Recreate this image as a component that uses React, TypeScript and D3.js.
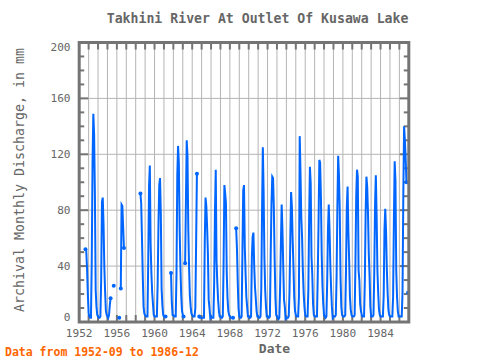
import React from "react";
import * as d3 from "d3";

const N = null;
const firstYear = 1952;
const lastYear = 1987;
const xLabelYears = [1952, 1956, 1960, 1964, 1968, 1972, 1976, 1980, 1984];
const yLabels = [0, 40, 80, 120, 160, 200];

// Monthly discharge in mm, January..December of each year
const values1950s: (number | null)[] = [
  N, N, N, N, N, N, N, N, 52, 51, 38, 20, // 1952
  6, 4, 3, 3, 44, 114, 149, 134, 92, 23, 11, 5, // 1953
  4, 3, 3, 4, 30, 86, 89, 70, 40, 22, 8, 5, // 1954
  4, 3, 5, 12, 17, N, N, N, 26, N, N, N, // 1955
  N, N, N, 3, N, 24, 84, 83, 68, 53, N, N, // 1956
  N, N, N, N, N, N, N, N, N, N, N, N, // 1957
  N, N, N, N, N, N, 92, 85, 60, 33, 11, 6, // 1958
  5, 4, 4, 4, 45, 97, 112, 56, 35, 21, 13, 5, // 1959
];
const values1960s: (number | null)[] = [
  4, 4, 4, 4, 28, 69, 98, 103, 78, 24, 12, 5, // 1960
  4, 4, 4, N, N, N, N, N, N, 35, 14, 5, // 1961
  5, 4, 4, 4, 35, 105, 126, 113, 66, 39, 19, 8, // 1962
  5, 4, N, 42, 86, 130, 119, 67, 39, 19, 11, 6, // 1963
  5, 4, 4, 4, 10, 57, 106, N, N, 4, 3, 3, // 1964
  3, 3, 3, 3, 57, 89, 83, 68, 49, 16, 10, 3, // 1965
  4, 3, 3, 3, 28, 79, 109, 44, 28, 16, 8, 4, // 1966
  4, 3, 3, 4, 42, 98, 92, 85, 35, 17, 8, 5, // 1967
  4, 3, 3, 3, 3, N, N, N, 67, 53, 29, 10, // 1968
  4, 3, 3, 4, 50, 94, 98, 54, 35, 18, 11, 4, // 1969
];
const values1970s: (number | null)[] = [
  4, 3, 3, 4, 46, 61, 64, 40, 25, 17, 8, 4, // 1970
  4, 3, 3, 4, 23, 79, 125, 93, 46, 23, 11, 4, // 1971
  4, 3, 3, 4, 47, 84, 104, 103, 83, 46, 18, 5, // 1972
  4, 3, 2, 3, 24, 55, 84, 66, 40, 16, 11, 2, // 1973
  3, 3, 3, 4, 22, 59, 93, 83, 59, 40, 18, 8, // 1974
  5, 4, 4, 4, 18, 133, 107, 75, 61, 37, 21, 11, // 1975
  5, 4, 4, 4, 23, 74, 111, 99, 47, 34, 13, 5, // 1976
  4, 4, 4, 4, 34, 71, 116, 114, 90, 49, 26, 13, // 1977
  5, 4, 3, 4, 28, 66, 84, 66, 41, 24, 11, 3, // 1978
  4, 4, 4, 5, 33, 83, 119, 105, 80, 32, 11, 5, // 1979
];
const values1980s: (number | null)[] = [
  4, 4, 4, 5, 38, 82, 97, 65, 44, 18, 9, 5, // 1980
  4, 4, 4, 5, 42, 90, 109, 104, 37, 30, 13, 8, // 1981
  5, 4, 4, 4, 30, 78, 104, 97, 78, 49, 33, 11, // 1982
  4, 4, 4, 5, 36, 84, 105, 76, 37, 21, 9, 5, // 1983
  4, 4, 4, 4, 19, 66, 81, 65, 38, 21, 9, 5, // 1984
  4, 4, 4, 4, 18, 72, 115, 101, 37, 18, 8, 4, // 1985
  4, 4, 4, 4, 21, 90, 140, 130, 117, 100, N, 21, // 1986
];

type Pt = { t: number; v: number | null };
const allValues = [...values1950s, ...values1960s, ...values1970s, ...values1980s];
const points: Pt[] = allValues.map((v, i) => ({ t: firstYear + i / 12, v }));

const W = 480;
const H = 360;
const left = 79.2;
const right = 408.8;
const top = 42.5;
const bottom = 322;

const FRAME = "#747474";
const GRID = "#b4b4b4";
const TEXT = "#666666";
const LINE = "#0066ff";
const FONT = "'DejaVu Sans Mono', monospace";

export default function App() {
  const x = d3.scaleLinear().domain([firstYear, lastYear]).range([left, right]);
  const y = d3.scaleLinear().domain([0, 200]).range([bottom, top]);
  const line = d3
    .line<Pt>()
    .defined((d) => d.v != null)
    .x((d) => x(d.t))
    .y((d) => y(d.v as number));

  const markers = points.filter((d, i) => {
    if (d.v == null) return false;
    const p = points[i - 1];
    const n = points[i + 1];
    return !p || p.v == null || !n || n.v == null;
  });

  const years = d3.range(firstYear + 1, lastYear);
  const minor = d3.range(10, 200, 10);
  const labelY = (v: number) =>
    Math.min(Math.max(y(v), y(200) + 4.2), y(0) - 5.3);

  return (
    <svg
      width={W}
      height={H}
      style={{ position: "fixed", left: 0, top: 0, background: "#fff" }}
    >
      <rect x={0} y={0} width={W} height={H} fill="#fff" />
      {years.map((yr) => (
        <line key={"g" + yr} x1={x(yr)} x2={x(yr)} y1={top} y2={bottom} stroke={GRID} strokeWidth={1} />
      ))}
      {[40, 80, 120, 160].map((v) => (
        <line key={"h" + v} x1={left} x2={right} y1={y(v)} y2={y(v)} stroke={GRID} strokeWidth={1} />
      ))}
      {years.map((yr) => (
        <g key={"t" + yr}>
          <line x1={x(yr)} x2={x(yr)} y1={top} y2={top + 7} stroke={FRAME} strokeWidth={2} />
          <line x1={x(yr)} x2={x(yr)} y1={bottom} y2={bottom - 7} stroke={FRAME} strokeWidth={2} />
        </g>
      ))}
      {minor.map((v) => {
        const len = v % 40 === 0 ? 9 : 5;
        return (
          <g key={"m" + v}>
            <line x1={left} x2={left + len} y1={y(v)} y2={y(v)} stroke={FRAME} strokeWidth={2} />
            <line x1={right} x2={right - len} y1={y(v)} y2={y(v)} stroke={FRAME} strokeWidth={2} />
          </g>
        );
      })}
      <path d={line(points) || ""} fill="none" stroke={LINE} strokeWidth={2} strokeLinejoin="miter" />
      {markers.map((d, i) => (
        <circle key={"c" + i} cx={x(d.t)} cy={y(d.v as number)} r={2} fill={LINE} />
      ))}
      <rect x={left} y={top} width={right - left} height={bottom - top} fill="none" stroke={FRAME} strokeWidth={3} />
      {yLabels.map((v) => (
        <text key={"yl" + v} x={70.5} y={labelY(v)} dy="0.36em" textAnchor="end" fontFamily={FONT} fontSize={11.1} fill={TEXT}>
          {v}
        </text>
      ))}
      {xLabelYears.map((yr) => (
        <text key={"xl" + yr} x={x(yr)} y={333} dy="0.36em" textAnchor="middle" fontFamily={FONT} fontSize={11.1} fill={TEXT}>
          {yr}
        </text>
      ))}
      <text x={257.6} y={18.3} dy="0.36em" textAnchor="middle" fontFamily={FONT} fontSize={13.2} fontWeight="bold" fill={TEXT}>
        Takhini River At Outlet Of Kusawa Lake
      </text>
      <text
        transform="translate(19,180) rotate(-90)"
        textAnchor="middle"
        dy="0.36em"
        fontFamily={FONT}
        fontSize={13.3}
        fill={TEXT}
      >
        Archival Monthly Discharge, in mm
      </text>
      <text x={274.5} y={348} dy="0.36em" textAnchor="middle" fontFamily={FONT} fontSize={13} fontWeight="bold" fill={TEXT}>
        Date
      </text>
      <text x={5} y={351.5} dy="0.36em" fontFamily={FONT} fontSize={11.5} fontWeight="bold" fill="#ff6600">
        Data from 1952-09 to 1986-12
      </text>
    </svg>
  );
}
